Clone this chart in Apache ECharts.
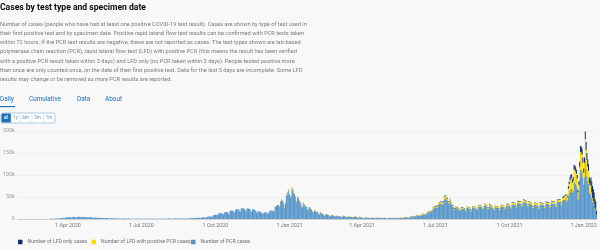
<!DOCTYPE html>
<html><head><meta charset="utf-8">
<script src="https://cdn.jsdelivr.net/npm/echarts@6/dist/echarts.min.js"></script>
<style>html,body{margin:0;padding:0;background:#f8f8f8}#c{width:600px;height:249px}</style>
</head><body><div id="c"></div>
<script>
// Daily cases (thousands), first day 2020-01-30 (Thu); rows are Mon-Sun weeks
const startDate = '2020-01-30';
const pcrCases = [
0,0,0,0,
0,0,0,0,0,0,0,
0,0,0,0,0,0,0,
0,0,0,0,0,0,0,
0,0,0,0.01,0.02,0.02,0.03,
0.04,0.05,0.06,0.08,0.1,0.12,0.15,
0.25,0.3,0.35,0.4,0.45,0.4,0.4,
0.9,1.0,1.1,1.2,1.3,1.1,1.2,
2.0,2.3,2.5,2.7,2.8,2.5,2.6,
3.8,4.0,4.2,4.4,4.3,3.6,3.5,
4.6,4.8,4.9,4.8,4.6,3.9,3.8,
4.7,5.2,5.1,5.0,4.7,4.0,3.8,
4.8,4.9,4.7,4.5,4.2,3.5,3.3,
4.3,4.1,3.9,3.7,3.4,2.7,2.5,
3.5,3.3,3.1,2.9,2.6,2.0,1.9,
2.9,2.7,2.5,2.3,2.1,1.6,1.5,
2.4,2.2,2.0,1.9,1.7,1.3,1.2,
1.5,1.7,1.6,1.5,1.3,1.0,0.9,
1.4,1.3,1.2,1.1,1.0,0.8,0.7,
1.1,1.0,0.95,0.9,0.8,0.6,0.55,
0.9,0.85,0.8,0.75,0.7,0.5,0.5,
0.8,0.75,0.7,0.7,0.65,0.5,0.45,
0.75,0.7,0.65,0.65,0.6,0.45,0.45,
0.7,0.65,0.65,0.6,0.6,0.45,0.45,
0.7,0.7,0.65,0.65,0.6,0.5,0.5,
0.75,0.75,0.7,0.7,0.65,0.55,0.55,
0.85,0.85,0.8,0.8,0.75,0.6,0.6,
0.95,0.95,0.9,0.85,0.8,0.65,0.65,
1.1,1.05,1.0,0.95,0.9,0.75,0.75,
1.2,1.15,1.1,1.05,1.0,0.85,0.85,
1.4,1.4,1.35,1.3,1.25,1.05,1.1,
1.8,2.0,2.0,2.1,2.0,1.8,1.9,
3.0,3.0,2.9,2.8,2.7,2.3,2.4,
3.6,3.7,3.6,3.5,3.4,3.0,3.2,
5.0,5.3,5.4,5.5,5.6,5.0,5.3,
8.0,8.5,9.0,9.5,9.8,9.0,9.2,
12.5,13.0,13.5,13.8,13.6,11.0,10.5,
15.0,15.8,16.0,15.8,15.5,12.5,12.0,
18.0,19.0,19.5,19.0,18.5,15.0,14.8,
21.0,22.0,22.5,22.0,21.5,17.5,17.0,
24.0,25.0,24.5,24.0,23.0,18.5,17.5,
23.5,24.5,24.0,23.0,22.0,17.5,16.5,
21.5,22.5,21.5,20.5,19.0,15.0,14.0,
17.5,18.0,17.0,16.0,15.0,12.0,11.5,
15.0,15.5,15.0,14.8,14.5,12.0,12.5,
17.5,18.5,18.8,19.0,19.5,17.0,18.0,
26.0,28.5,30.0,31.0,32.0,28.0,30.0,
40.0,43.0,42.0,39.0,32.0,25.0,36.0,
52.0,58.0,62.0,66.0,55.0,48.0,52.0,
70.0,65.0,60.0,57.0,52.0,40.0,38.0,
50.0,46.0,42.0,39.0,36.0,28.0,26.0,
36.0,33.0,31.0,29.0,27.0,21.0,19.0,
27.0,25.0,23.0,21.0,19.0,15.0,14.0,
20.0,18.5,17.0,16.0,14.5,11.0,10.0,
15.0,14.0,12.5,11.5,10.5,8.0,7.5,
11.0,10.5,9.5,9.0,8.5,6.5,6.0,
9.0,8.5,8.0,7.5,7.0,5.2,5.0,
7.2,6.8,6.2,5.8,5.5,4.2,3.9,
6.0,6.2,5.8,5.5,5.0,3.8,3.5,
5.5,5.4,5.0,4.8,4.4,3.4,3.2,
5.0,5.0,4.7,4.4,4.0,3.0,2.8,
4.2,4.0,3.8,3.5,2.4,2.0,2.3,
2.6,3.2,3.0,2.8,2.6,2.0,1.9,
3.0,2.8,2.6,2.5,2.3,1.7,1.6,
2.8,2.6,2.4,2.3,2.2,1.6,1.5,
2.6,2.5,2.3,2.2,2.0,1.5,1.4,
1.9,2.4,2.3,2.2,2.0,1.6,1.5,
2.5,2.4,2.3,2.3,2.2,1.8,1.8,
3.0,3.0,2.9,2.9,2.8,2.4,2.5,
3.8,3.9,3.9,4.0,4.0,3.5,3.6,
4.2,5.5,5.8,6.0,6.2,5.6,5.8,
8.0,8.3,8.2,8.0,7.8,7.0,7.2,
10.0,10.5,10.5,10.6,10.8,9.5,10.5,
14.0,15.0,15.5,16.0,17.0,16.0,18.0,
23.0,24.5,25.0,26.0,27.0,25.0,27.0,
33.0,34.5,35.0,35.5,36.0,33.0,35.0,
45.0,48.0,47.0,44.0,42.0,36.0,35.0,
41.0,37.0,33.0,30.0,27.0,22.0,21.0,
26.0,25.0,24.0,23.0,22.0,18.0,18.0,
24.0,24.0,23.5,23.0,22.0,18.0,18.5,
25.0,25.0,24.5,24.0,23.0,19.0,19.5,
26.5,26.0,25.5,25.0,24.5,20.0,20.5,
28.0,28.5,28.0,27.5,27.0,22.0,23.0,
25.0,31.0,31.0,30.0,28.5,23.0,23.5,
30.0,29.0,28.0,26.5,25.0,20.0,20.5,
27.5,27.0,26.0,25.5,25.0,20.5,21.0,
28.0,28.5,28.0,27.5,27.0,22.0,23.0,
30.5,31.0,30.5,30.0,29.5,24.0,25.0,
33.0,33.5,33.0,32.5,32.0,26.0,27.0,
36.0,36.5,36.0,35.5,35.0,28.5,29.5,
39.0,39.0,38.0,37.0,36.0,29.0,29.0,
36.0,35.0,34.0,32.5,31.0,25.0,25.0,
33.0,32.5,31.5,31.0,30.0,24.0,24.5,
33.5,33.0,32.5,32.0,31.0,25.0,25.5,
35.0,34.5,34.0,33.5,33.0,26.5,27.0,
36.5,36.0,35.5,35.0,34.5,28.0,28.5,
38.0,38.5,38.5,39.0,39.0,32.0,33.5,
42.0,43.0,44.0,45.0,46.0,40.0,43.0,
52,59,65,68,69,61,64,
83,84,80,76,68,44,58,
88,112,112,108,95,78,95,
135,115,98,86,80,60,56,
58,48,40,36,31,23,20,
9
];
// LFD series start on this date (zero before)
const lfdStartDate = '2020-12-07';
const lfdWithPcrCases = [
0.2,0.2,0.2,0.2,0.2,0.2,0.2,
0.4,0.4,0.5,0.5,0.5,0.4,0.4,
0.8,0.9,0.9,0.8,0.6,0.4,0.6,
1.2,1.4,1.5,1.6,1.2,1.0,1.1,
1.8,1.7,1.6,1.5,1.4,1.0,0.9,
1.4,1.3,1.2,1.1,1.0,0.8,0.7,
1.1,1.0,0.95,0.9,0.85,0.6,0.55,
0.9,0.85,0.8,0.75,0.7,0.5,0.45,
0.75,0.7,0.65,0.6,0.55,0.4,0.4,
0.6,0.55,0.5,0.5,0.45,0.35,0.3,
0.5,0.5,0.45,0.45,0.4,0.3,0.3,
0.5,0.45,0.45,0.4,0.4,0.3,0.3,
0.5,0.5,0.45,0.45,0.4,0.3,0.3,
0.7,0.75,0.7,0.65,0.6,0.45,0.4,
0.7,0.7,0.65,0.6,0.55,0.4,0.4,
0.65,0.65,0.6,0.55,0.5,0.4,0.35,
0.55,0.5,0.5,0.45,0.3,0.25,0.3,
0.35,0.4,0.4,0.35,0.35,0.25,0.25,
0.4,0.4,0.35,0.35,0.3,0.25,0.2,
0.35,0.35,0.3,0.3,0.3,0.2,0.2,
0.3,0.3,0.3,0.3,0.25,0.2,0.2,
0.25,0.3,0.3,0.3,0.25,0.2,0.2,
0.3,0.3,0.3,0.3,0.3,0.25,0.25,
0.35,0.35,0.35,0.35,0.35,0.3,0.3,
0.45,0.45,0.45,0.45,0.45,0.4,0.4,
0.5,0.6,0.65,0.7,0.7,0.6,0.65,
0.9,0.9,0.9,0.9,0.85,0.75,0.8,
1.1,1.1,1.1,1.1,1.1,1.0,1.1,
1.4,1.5,1.5,1.6,1.7,1.6,1.8,
2.3,2.4,2.5,2.6,2.7,2.5,2.7,
3.2,3.4,3.5,3.5,3.6,3.3,3.5,
4.5,4.8,4.7,4.4,4.2,3.6,3.5,
4.0,3.6,3.2,2.9,2.6,2.1,2.0,
2.5,2.4,2.3,2.2,2.1,1.7,1.7,
2.3,2.3,2.2,2.2,2.1,1.7,1.7,
2.4,2.4,2.3,2.3,2.2,1.8,1.8,
2.5,2.5,2.4,2.4,2.3,1.9,1.9,
2.7,2.7,2.7,2.6,2.6,2.1,2.2,
2.4,3.0,3.0,2.9,2.7,2.2,2.2,
3.2,3.1,3.0,2.8,2.7,2.1,2.2,
3.0,2.9,2.8,2.7,2.7,2.2,2.3,
3.0,3.1,3.0,3.0,2.9,2.4,2.5,
3.3,3.4,3.3,3.3,3.2,2.6,2.7,
3.6,3.7,3.6,3.6,3.5,2.8,2.9,
4.0,4.0,4.0,3.9,3.8,3.1,3.2,
4.3,4.3,4.2,4.1,4.0,3.2,3.2,
4.0,3.9,3.8,3.6,3.4,2.8,2.8,
3.6,3.6,3.5,3.4,3.3,2.6,2.7,
3.7,3.6,3.6,3.5,3.4,2.8,2.8,
3.9,3.8,3.7,3.7,3.6,2.9,3.0,
4.0,4.0,3.9,3.9,3.8,3.1,3.1,
4.3,4.4,4.5,4.6,4.7,3.9,4.1,
6.0,6.5,7.0,7.5,8.0,7.0,8.0,
17,20,23,24,25,22,23,
29,29,28,27,24,16,20,
31,40,39,38,33,27,33,
46,42,36,33,29,22,21,
18,12,8,5,3,2,1.5,
0.5
];
const lfdOnlyCases = [
0.05,0.05,0.05,0.05,0.05,0.05,0.05,
0.1,0.1,0.1,0.1,0.1,0.1,0.1,
0.15,0.15,0.15,0.15,0.1,0.1,0.1,
0.2,0.25,0.25,0.25,0.2,0.2,0.2,
0.3,0.3,0.3,0.25,0.25,0.2,0.2,
0.25,0.25,0.2,0.2,0.2,0.15,0.15,
0.2,0.2,0.2,0.15,0.15,0.1,0.1,
0.15,0.15,0.15,0.15,0.15,0.1,0.1,
0.15,0.15,0.15,0.1,0.1,0.1,0.1,
0.1,0.1,0.1,0.1,0.1,0.1,0.1,
0.1,0.1,0.1,0.1,0.1,0.1,0.1,
0.1,0.1,0.1,0.1,0.1,0.1,0.1,
0.1,0.1,0.1,0.1,0.1,0.1,0.1,
0.2,0.2,0.2,0.2,0.15,0.1,0.1,
0.15,0.15,0.15,0.15,0.15,0.1,0.1,
0.15,0.15,0.15,0.15,0.15,0.1,0.1,
0.15,0.15,0.15,0.15,0.15,0.1,0.1,
0.1,0.1,0.1,0.1,0.1,0.1,0.1,
0.1,0.1,0.1,0.1,0.1,0.1,0.1,
0.1,0.1,0.1,0.1,0.1,0.1,0.1,
0.1,0.1,0.1,0.1,0.1,0.1,0.1,
0.1,0.1,0.1,0.1,0.1,0.1,0.1,
0.1,0.1,0.1,0.1,0.1,0.1,0.1,
0.1,0.1,0.1,0.1,0.1,0.1,0.1,
0.1,0.1,0.1,0.1,0.1,0.1,0.1,
0.15,0.15,0.15,0.15,0.15,0.15,0.15,
0.2,0.2,0.2,0.2,0.2,0.2,0.2,
0.3,0.3,0.3,0.3,0.3,0.3,0.3,
0.4,0.45,0.45,0.5,0.5,0.45,0.5,
0.7,0.7,0.75,0.8,0.8,0.75,0.8,
1.0,1.0,1.1,1.1,1.1,1.0,1.0,
1.4,1.5,1.4,1.3,1.3,1.1,1.1,
1.2,1.1,1.0,0.9,0.8,0.65,0.6,
0.75,0.7,0.7,0.65,0.65,0.5,0.5,
0.7,0.7,0.7,0.65,0.65,0.55,0.55,
0.7,0.7,0.7,0.65,0.65,0.55,0.55,
0.7,0.7,0.7,0.65,0.65,0.55,0.55,
0.7,0.7,0.7,0.65,0.65,0.55,0.55,
0.7,0.9,0.9,0.85,0.8,0.65,0.65,
0.9,0.9,0.85,0.85,0.8,0.65,0.65,
0.9,0.9,0.85,0.85,0.8,0.65,0.65,
0.9,0.9,0.85,0.85,0.8,0.65,0.65,
0.9,0.9,0.85,0.85,0.8,0.65,0.65,
1.1,1.1,1.1,1.05,1.0,0.85,0.85,
1.1,1.1,1.1,1.05,1.0,0.85,0.85,
1.1,1.1,1.1,1.05,1.0,0.85,0.85,
1.0,1.0,1.0,0.95,0.9,0.75,0.75,
1.0,1.0,1.0,0.95,0.9,0.75,0.75,
1.0,1.0,1.0,0.95,0.9,0.75,0.75,
1.0,1.0,1.0,0.95,0.9,0.75,0.75,
1.0,1.0,1.0,0.95,0.9,0.75,0.75,
1.2,1.2,1.3,1.3,1.3,1.1,1.2,
2,2,2,2.2,2.3,2,2.5,
6,6,7,8,8,7,8,
10,10,10,9,8,5,7,
11,14,14,14,12,10,12,
18,18,16,16,16,13,13,
19,25,27,27,26,20,18,
10
];
const tickDates = ['2020-04-01','2020-07-01','2020-10-01','2021-01-01','2021-04-01','2021-07-01','2021-10-01','2022-01-01'];
const seriesNames = ['Number of LFD only cases','Number of LFD with positive PCR cases','Number of PCR cases'];
const monthNames = ['Jan','Feb','Mar','Apr','May','Jun','Jul','Aug','Sep','Oct','Nov','Dec'];

function iso(d){return d.toISOString().slice(0,10);}
const categories = [];
const t0 = Date.parse(startDate + 'T00:00:00Z');
for (let i = 0; i < pcrCases.length; i++) categories.push(iso(new Date(t0 + i*86400000)));
const lfdOffset = categories.indexOf(lfdStartDate);
function pad(arr){return categories.map((d,i)=> i < lfdOffset ? 0 : (arr[i-lfdOffset] ?? 0));}
const isTick = (idx, val) => tickDates.indexOf(val) >= 0;
function fmtDate(v){const p=v.split('-');return (+p[2])+' '+monthNames[+p[1]-1]+' '+p[0];}

const descLines = [
'Number of cases (people who have had at least one positive COVID-19 test result). Cases are shown by type of test used in',
'their first positive test and by specimen date. Positive rapid lateral flow test results can be confirmed with PCR tests taken',
'within 72 hours. If the PCR test results are negative, these are not reported as cases. The test types shown are lab-based',
'polymerase chain reaction (PCR), rapid lateral flow test (LFD) with positive PCR (this means the result has been verified',
'with a positive PCR result taken within 3 days) and LFD only (no PCR taken within 3 days). People tested positive more',
'than once are only counted once, on the date of their first positive test. Data for the last 5 days are incomplete. Some LFD',
'results may change or be removed as more PCR results are reported.'
];
const FONT = 'Roboto, "Noto Sans", sans-serif';
const graphic = [
 {type:'text', left:0, top:3, style:{text:'Cases by test type and specimen date', font:'bold 8.6px '+FONT, fill:'#0b0c0c'}}
];
descLines.forEach((l,i)=>graphic.push({type:'text', left:0, top:21.5+i*9.15, style:{text:l, font:'5.65px '+FONT, fill:'#7d7d7d'}}));
const tabs = [['Daily',0],['Cumulative',29],['Data',77],['About',105]];
tabs.forEach(t=>graphic.push({type:'text', left:t[1], top:96.5, style:{text:t[0], font:'6.4px '+FONT, fill:'#1d70b8'}}));
graphic.push({type:'rect', shape:{x:0,y:106,width:15,height:1.2}, style:{fill:'#1d70b8'}});
graphic.push({type:'rect', shape:{x:1,y:113,width:54,height:10,r:1.5}, style:{fill:'#fff',stroke:'#8db4dc',lineWidth:0.7}});
graphic.push({type:'rect', shape:{x:1.5,y:113.5,width:9.5,height:9,r:1}, style:{fill:'#1d70b8'}});
const btns = [['all',6,'#fff'],['1y',15.5,'#6b8fb8'],['6m',25.5,'#6b8fb8'],['3m',37.5,'#6b8fb8'],['1m',49,'#6b8fb8']];
btns.forEach(b=>graphic.push({type:'text', x:b[1], y:118, style:{text:b[0], font:'4.6px '+FONT, fill:b[2], align:'center', verticalAlign:'middle'}}));
[11,20,32,43.5].forEach(x=>graphic.push({type:'line', shape:{x1:x,y1:113.5,x2:x,y2:122.5}, style:{stroke:'#b8cfe8',lineWidth:0.6}}));

const colors = ['#0b2f6e','#ffdd00','#5694ca'];
const legendPos = [18, 91.5, 191];
const chart = echarts.init(document.getElementById('c'), null, {renderer:'canvas'});
chart.setOption({
 backgroundColor:'#f8f8f8',
 animation:false,
 textStyle:{fontFamily:FONT},
 grid:{left:14, right:3, top:131, bottom:30, containLabel:false},
 legend: seriesNames.map((n,i)=>({data:[n], left:legendPos[i], top:239.5, icon:'rect', itemWidth:4.5, itemHeight:4.5, itemGap:4,
   textStyle:{fontSize:5.1, color:'#6f6f6f', fontFamily:FONT, padding:[0,0,0,0]}, padding:0, selectedMode:false})),
 xAxis:{type:'category', data:categories, boundaryGap:true,
   axisLine:{lineStyle:{color:'#c8c8c8', width:0.8}},
   axisTick:{interval:isTick, alignWithLabel:true, length:2.5, lineStyle:{color:'#999', width:0.8}},
   axisLabel:{interval:isTick, formatter:fmtDate, fontSize:5.3, color:'#777', margin:4, fontFamily:FONT}},
 yAxis:{type:'value', min:0, max:200, interval:50,
   axisLabel:{formatter:v=> v===0?'0':v+'k', fontSize:5.3, color:'#9a9a9a', margin:3, fontFamily:FONT},
   axisLine:{show:false}, axisTick:{show:false},
   splitLine:{lineStyle:{color:'#ececec', width:0.7}}},
 series:[
  {name:seriesNames[2], type:'bar', stack:'cases', data:pcrCases, itemStyle:{color:colors[2]}, barCategoryGap:'0%'},
  {name:seriesNames[1], type:'bar', stack:'cases', data:pad(lfdWithPcrCases), itemStyle:{color:colors[1]}, barCategoryGap:'0%'},
  {name:seriesNames[0], type:'bar', stack:'cases', data:pad(lfdOnlyCases), itemStyle:{color:colors[0]}, barCategoryGap:'0%'}
 ],
 graphic: graphic
});
</script></body></html>
